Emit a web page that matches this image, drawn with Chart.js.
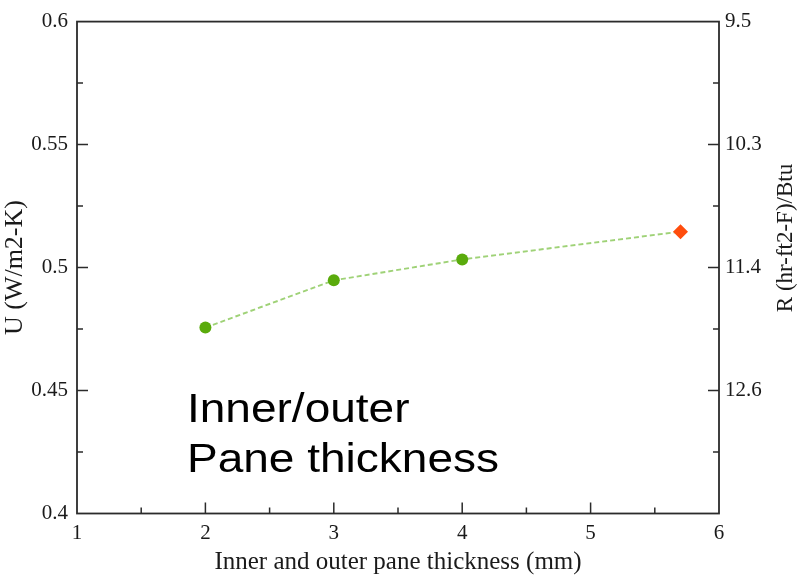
<!DOCTYPE html>
<html>
<head>
<meta charset="utf-8">
<script src="https://cdn.jsdelivr.net/npm/chart.js@4"></script>
<style>
  html, body { margin: 0; padding: 0; background: #fff; }
</style>
</head>
<body>
<canvas id="chart" width="802" height="579"></canvas>
<script>
const thickness = [2, 3, 4, 5.7]
const uValues = [0.4756, 0.4948, 0.5033, 0.5146]
const pointStyles = ['circle', 'circle', 'circle', 'rectRot']
const pointColors = ['#5aab0c', '#5aab0c', '#5aab0c', '#ff4d0d']
const pointSizes = [6, 6, 6, 7.5]

const xTicks = [1, 2, 3, 4, 5, 6]
const uTicks = ['0.4', '0.45', '0.5', '0.55', '0.6']
const rTickValues = [0.6, 0.55, 0.5, 0.45]
const rTickLabels = ['9.5', '10.3', '11.4', '12.6']

const serif = '"Liberation Serif", "Times New Roman", serif'
const textColor = '#1a1a1a'

// frame, inward ticks, right title and the annotation text
const decorations = {
    id: 'decorations',
    beforeDatasetsDraw(chart) {
        const ctx = chart.ctx
        const area = chart.chartArea
        const x = chart.scales.x
        const y = chart.scales.y
        ctx.save()
        ctx.strokeStyle = '#2b2b2b'
        ctx.lineWidth = 1.8
        ctx.strokeRect(area.left, area.top, area.right - area.left, area.bottom - area.top)

        ctx.lineWidth = 1.5
        ctx.beginPath()
        for (let v = 1.5; v < 6; v += 0.5) {
            const px = x.getPixelForValue(v)
            const len = Number.isInteger(v) ? 11 : 6
            ctx.moveTo(px, area.bottom)
            ctx.lineTo(px, area.bottom - len)
        }
        for (let i = 1; i < 8; i++) {
            const v = 0.4 + i * 0.025
            const py = y.getPixelForValue(v)
            const len = i % 2 === 0 ? 11 : 6
            ctx.moveTo(area.left, py)
            ctx.lineTo(area.left + len, py)
            ctx.moveTo(area.right, py)
            ctx.lineTo(area.right - len, py)
        }
        ctx.stroke()

        // right axis title, reads bottom to top
        ctx.fillStyle = textColor
        ctx.font = '23px ' + serif
        ctx.textAlign = 'center'
        ctx.textBaseline = 'middle'
        ctx.translate(786, 238)
        ctx.rotate(-Math.PI / 2)
        ctx.fillText('R (hr-ft2-F)/Btu', 0, 0)
        ctx.restore()

        // annotation
        ctx.save()
        ctx.fillStyle = '#000'
        ctx.font = '40px "Liberation Sans", Arial, sans-serif'
        ctx.textAlign = 'left'
        ctx.textBaseline = 'alphabetic'
        ctx.translate(187, 0)
        ctx.scale(1.15, 1)
        ctx.fillText('Inner/outer', 0, 422)
        ctx.fillText('Pane thickness', 0, 472)
        ctx.restore()
    }
}

const ctx = document.querySelector('#chart')

const myChart = new Chart(ctx, {
    type: 'scatter',
    data: {
        datasets: [
            {
                data: thickness.map((t, i) => ({ x: t, y: uValues[i] })),
                showLine: true,
                borderColor: '#9fd277',
                borderWidth: 1.9,
                borderDash: [5, 3],
                pointStyle: pointStyles,
                pointBackgroundColor: pointColors,
                pointBorderColor: pointColors,
                pointBorderWidth: 0,
                pointRadius: pointSizes
            }
        ]
    },
    options: {
        responsive: false,
        devicePixelRatio: 1,
        animation: false,
        layout: { padding: { top: 17.5, left: 0, right: 0, bottom: 0 } },
        plugins: {
            legend: { display: false },
            tooltip: { enabled: false }
        },
        scales: {
            x: {
                type: 'linear',
                min: 1,
                max: 6,
                afterFit(scale) { scale.height = 65.5 },
                afterBuildTicks(scale) { scale.ticks = xTicks.map(v => ({ value: v })) },
                grid: { display: false, drawTicks: false },
                border: { display: false },
                ticks: {
                    autoSkip: false,
                    maxRotation: 0,
                    padding: 7,
                    color: textColor,
                    font: { family: serif, size: 21 },
                    callback: v => String(v)
                },
                title: {
                    display: true,
                    text: 'Inner and outer pane thickness (mm)',
                    color: textColor,
                    font: { family: serif, size: 25 },
                    padding: { top: 0, bottom: 2 }
                }
            },
            y: {
                position: 'left',
                min: 0.4,
                max: 0.6,
                afterFit(scale) { scale.width = 77 },
                afterBuildTicks(scale) { scale.ticks = uTicks.map(s => ({ value: parseFloat(s) })) },
                grid: { display: false, drawTicks: false },
                border: { display: false },
                ticks: {
                    padding: 9,
                    color: textColor,
                    font: { family: serif, size: 21 },
                    callback: (v, i) => uTicks[i]
                },
                title: {
                    display: true,
                    text: 'U (W/m2-K)',
                    color: textColor,
                    font: { family: serif, size: 26 },
                    padding: { top: 0, bottom: 4 }
                }
            },
            y2: {
                position: 'right',
                min: 0.4,
                max: 0.6,
                afterFit(scale) { scale.width = 83 },
                afterBuildTicks(scale) { scale.ticks = rTickValues.map(v => ({ value: v })) },
                grid: { display: false, drawTicks: false },
                border: { display: false },
                ticks: {
                    padding: 6,
                    color: textColor,
                    font: { family: serif, size: 21 },
                    callback: (v, i) => rTickLabels[i]
                }
            }
        }
    },
    plugins: [decorations]
})
</script>
</body>
</html>
